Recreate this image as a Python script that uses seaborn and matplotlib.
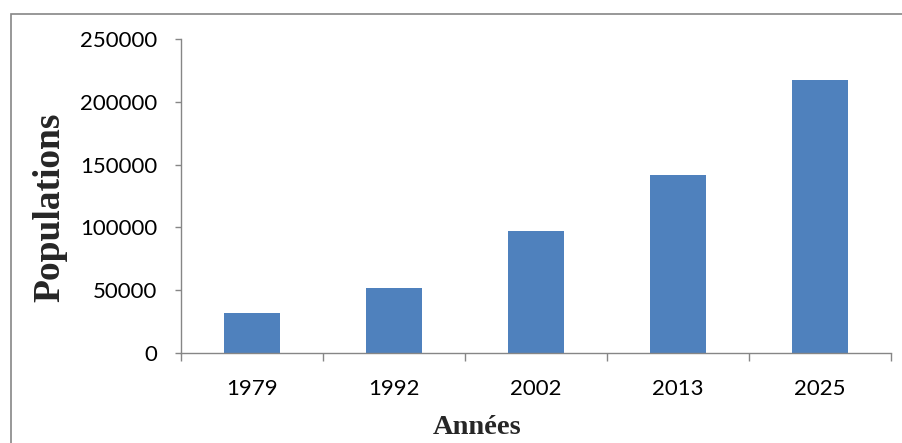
import matplotlib
matplotlib.use("Agg")
import matplotlib.pyplot as plt
import seaborn as sns
import pandas as pd
from matplotlib.patches import Rectangle
from matplotlib.ticker import FixedLocator

years = ["1979", "1992", "2002", "2013", "2025"]
populations = [31600, 52000, 97000, 141700, 217300]
y_ticks = [0, 50000, 100000, 150000, 200000, 250000]

sns.set_style("ticks")
plt.rcParams['font.family'] = ['Lato', 'DejaVu Sans']

df = pd.DataFrame({"Années": years, "Populations": populations})

fig = plt.figure(figsize=(9.03, 4.43), dpi=100)
ax = fig.add_axes([181/903, 1-353/443, (891-181)/903, (353-39)/443])

sns.barplot(data=df, x="Années", y="Populations", color="#4F81BD",
            saturation=1, width=0.4, ax=ax, edgecolor="#4F81BD", linewidth=0)

ax.set_xlim(-0.5, len(years) - 0.5)
ax.set_ylim(0, 250000)
ax.set_yticks(y_ticks)
ax.set_yticklabels([str(v) for v in y_ticks])
ax.xaxis.set_minor_locator(FixedLocator([i - 0.5 for i in range(len(years) + 1)]))
ax.tick_params(axis='x', which='major', bottom=True, length=0, pad=19, labelsize=16, labelcolor='black')
ax.tick_params(axis='x', which='minor', bottom=True, length=6, width=1, color='#868686', direction='out')
ax.tick_params(axis='y', which='major', left=True, length=4.5, width=1, color='#868686', direction='out',
               pad=12.5, labelsize=16, labelcolor='black')

for s in ["top", "right"]:
    ax.spines[s].set_visible(False)
for s in ["left", "bottom"]:
    ax.spines[s].set_color('#868686')
    ax.spines[s].set_linewidth(1)

ax.set_xlabel("")
ax.set_ylabel("")
fig.text(50/903, 1-207/443, "Populations", rotation=90, ha='center', va='center',
         fontsize=27, fontweight='bold', family=['Liberation Serif'])
fig.text(477/903, 1-428/443, "Années", ha='center', va='center',
         fontsize=20.5, fontweight='bold', family=['Liberation Serif'])

fig.patches.append(Rectangle((11/903, -0.1), 1.2, 1 - 14/443 + 0.1, transform=fig.transFigure,
                             fill=False, edgecolor='#868686', linewidth=1.2))

fig.savefig("out.png", dpi=100)
